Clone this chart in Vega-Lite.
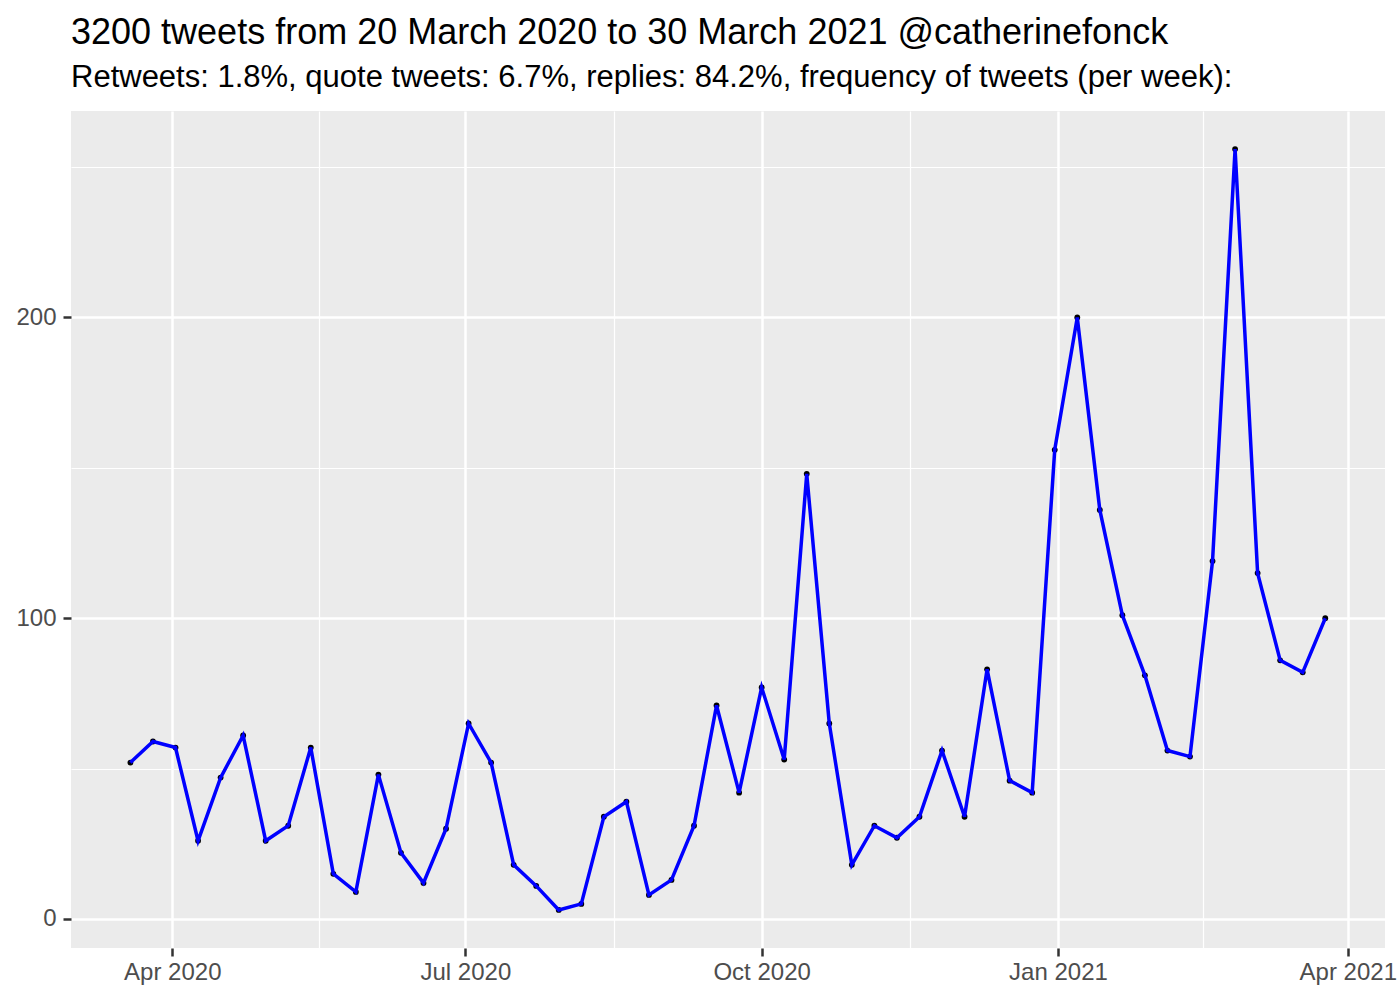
{
  "$schema": "https://vega.github.io/schema/vega-lite/v6.json",
  "autosize": {"type": "none"},
  "width": 1314,
  "height": 837,
  "padding": {"left": 71, "top": 111, "right": 15, "bottom": 52},
  "background": "white",
  "title": {
    "text": "3200 tweets from 20 March 2020 to 30 March 2021 @catherinefonck",
    "subtitle": "Retweets: 1.8%, quote tweets: 6.7%, replies: 84.2%, frequency of tweets (per week):",
    "anchor": "start",
    "frame": "group",
    "font": "Liberation Sans",
    "subtitleFont": "Liberation Sans",
    "fontSize": 36,
    "subtitleFontSize": 31,
    "fontWeight": "normal",
    "color": "black",
    "subtitleColor": "black",
    "offset": 17,
    "subtitlePadding": 11
  },
  "data": {
    "values": [
      {"week": "2020-03-19", "n": 52},
      {"week": "2020-03-26", "n": 59},
      {"week": "2020-04-02", "n": 57},
      {"week": "2020-04-09", "n": 26},
      {"week": "2020-04-16", "n": 47},
      {"week": "2020-04-23", "n": 61},
      {"week": "2020-04-30", "n": 26},
      {"week": "2020-05-07", "n": 31},
      {"week": "2020-05-14", "n": 57},
      {"week": "2020-05-21", "n": 15},
      {"week": "2020-05-28", "n": 9},
      {"week": "2020-06-04", "n": 48},
      {"week": "2020-06-11", "n": 22},
      {"week": "2020-06-18", "n": 12},
      {"week": "2020-06-25", "n": 30},
      {"week": "2020-07-02", "n": 65},
      {"week": "2020-07-09", "n": 52},
      {"week": "2020-07-16", "n": 18},
      {"week": "2020-07-23", "n": 11},
      {"week": "2020-07-30", "n": 3},
      {"week": "2020-08-06", "n": 5},
      {"week": "2020-08-13", "n": 34},
      {"week": "2020-08-20", "n": 39},
      {"week": "2020-08-27", "n": 8},
      {"week": "2020-09-03", "n": 13},
      {"week": "2020-09-10", "n": 31},
      {"week": "2020-09-17", "n": 71},
      {"week": "2020-09-24", "n": 42},
      {"week": "2020-10-01", "n": 77},
      {"week": "2020-10-08", "n": 53},
      {"week": "2020-10-15", "n": 148},
      {"week": "2020-10-22", "n": 65},
      {"week": "2020-10-29", "n": 18},
      {"week": "2020-11-05", "n": 31},
      {"week": "2020-11-12", "n": 27},
      {"week": "2020-11-19", "n": 34},
      {"week": "2020-11-26", "n": 56},
      {"week": "2020-12-03", "n": 34},
      {"week": "2020-12-10", "n": 83},
      {"week": "2020-12-17", "n": 46},
      {"week": "2020-12-24", "n": 42},
      {"week": "2020-12-31", "n": 156},
      {"week": "2021-01-07", "n": 200},
      {"week": "2021-01-14", "n": 136},
      {"week": "2021-01-21", "n": 101},
      {"week": "2021-01-28", "n": 81},
      {"week": "2021-02-04", "n": 56},
      {"week": "2021-02-11", "n": 54},
      {"week": "2021-02-18", "n": 119},
      {"week": "2021-02-25", "n": 256},
      {"week": "2021-03-04", "n": 115},
      {"week": "2021-03-11", "n": 86},
      {"week": "2021-03-18", "n": 82},
      {"week": "2021-03-25", "n": 100}
    ]
  },
  "encoding": {
    "x": {
      "field": "week",
      "type": "temporal",
      "title": null,
      "scale": {
        "type": "utc",
        "domain": [
          {"year": 2020, "month": 2, "date": 29, "hours": 13, "minutes": 12, "utc": true},
          {"year": 2021, "month": 4, "date": 12, "hours": 13, "minutes": 12, "utc": true}
        ]
      },
      "axis": {
        "values": [
          {"year": 2020, "month": 4, "date": 1, "utc": true},
          {"year": 2020, "month": 5, "date": 16, "hours": 12, "utc": true},
          {"year": 2020, "month": 7, "date": 1, "utc": true},
          {"year": 2020, "month": 8, "date": 16, "utc": true},
          {"year": 2020, "month": 10, "date": 1, "utc": true},
          {"year": 2020, "month": 11, "date": 16, "utc": true},
          {"year": 2021, "month": 1, "date": 1, "utc": true},
          {"year": 2021, "month": 2, "date": 15, "utc": true},
          {"year": 2021, "month": 4, "date": 1, "utc": true}
        ],
        "labelExpr": "utcdate(datum.value) == 1 ? utcFormat(datum.value, '%b %Y') : ''",
        "gridWidth": {"condition": {"test": "utcdate(datum.value) == 1", "value": 2.5}, "value": 1.2},
        "tickOpacity": {"condition": {"test": "utcdate(datum.value) == 1", "value": 1}, "value": 0},
        "labelFlush": false,
        "labelOverlap": false,
        "labelBound": false,
        "labelPadding": 4,
        "labelBaseline": "top"
      }
    },
    "y": {
      "field": "n",
      "type": "quantitative",
      "title": null,
      "scale": {"domain": [-9.65, 268.65], "nice": false, "zero": false},
      "axis": {
        "values": [0, 50, 100, 150, 200, 250],
        "labelExpr": "datum.value % 100 == 0 ? datum.label : ''",
        "gridWidth": {"condition": {"test": "datum.value % 100 == 0", "value": 2.5}, "value": 1.2},
        "tickOpacity": {"condition": {"test": "datum.value % 100 == 0", "value": 1}, "value": 0},
        "labelOverlap": false,
        "labelBound": false,
        "labelPadding": 7
      }
    }
  },
  "layer": [
    {"mark": {"type": "point", "filled": true, "color": "black", "size": 34, "opacity": 1}},
    {"mark": {"type": "line", "color": "#0000FF", "strokeWidth": 3.5}}
  ],
  "config": {
    "view": {"fill": "#EBEBEB", "stroke": null},
    "axis": {
      "domain": false,
      "grid": true,
      "gridColor": "white",
      "gridOpacity": 1,
      "tickColor": "#333333",
      "tickWidth": 2.5,
      "tickSize": 8,
      "labelFont": "Liberation Sans",
      "labelFontSize": 24,
      "labelColor": "#4D4D4D"
    }
  }
}
